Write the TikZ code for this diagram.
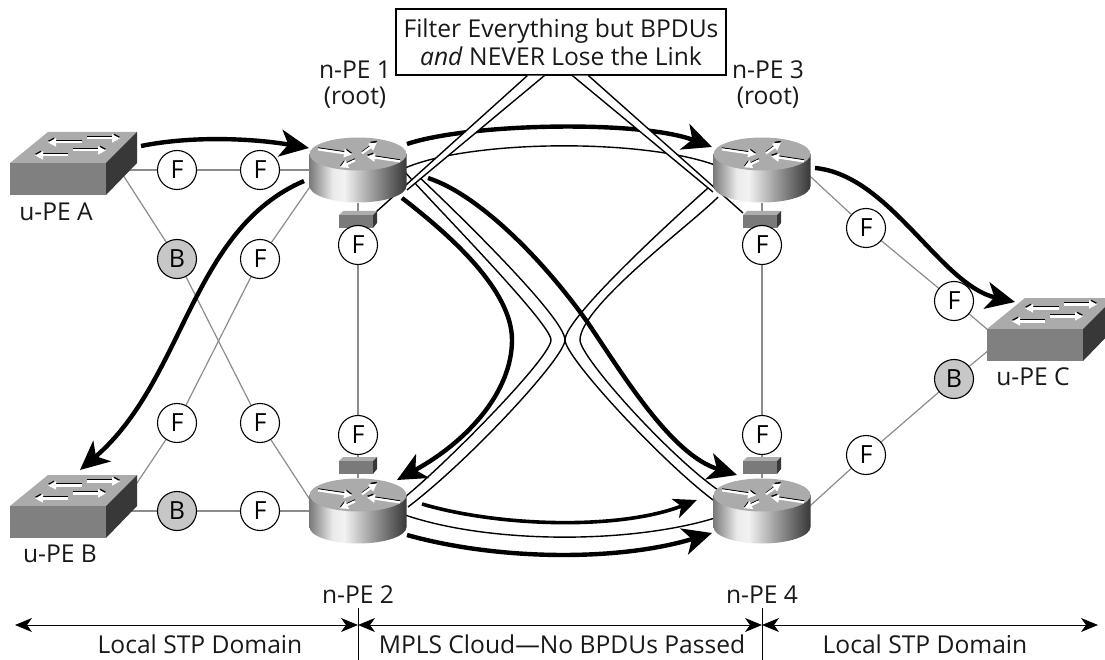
\documentclass[tikz,border=0pt]{standalone}
\usepackage{fontspec}
\setmainfont{Open Sans}
\usetikzlibrary{arrows.meta,calc}
\pgfdeclarelayer{wires}\pgfdeclarelayer{curves}\pgfdeclarelayer{callout}
\pgfsetlayers{wires,curves,callout,main}
\pgfdeclarehorizontalshading{routerside}{100bp}{color(0bp)=(black!52);color(25bp)=(black!52);color(37bp)=(black!8);color(43bp)=(black!5);color(60bp)=(black!45);color(75bp)=(black!78);color(100bp)=(black!78)}
\definecolor{wiregray}{gray}{0.55}
\definecolor{blockgray}{gray}{0.78}
\tikzset{
  x=1pt,y=-1pt,
  lab/.style={font=\fontsize{24.6}{28}\selectfont,inner sep=0pt,text=black!90},
  portf/.style={circle,draw=black,line width=1.1pt,fill=white,minimum size=39pt,inner sep=0pt,font=\fontsize{25}{25}\selectfont},
  portb/.style={portf,fill=blockgray},
  wire/.style={draw=wiregray,line width=1.2pt},
  thin line/.style={draw=black,line width=1.4pt},
  flow/.style={draw=black,line width=4.4pt,-{Stealth[length=29pt,width=27pt,inset=8pt]}},
  flowsmall/.style={draw=black,line width=3.6pt,-{Stealth[length=23pt,width=20pt,inset=6pt]}},
  span/.style={draw=black,line width=1pt,{Stealth[length=17pt,width=14pt,inset=5pt]}-{Stealth[length=17pt,width=14pt,inset=5pt]}},
  tick/.style={draw=black,line width=1pt},
}
% small white arrow with a dark edge
\newcommand{\whitearrow}[2]{%
  \draw[black,line width=1pt,-{Triangle[length=6pt,width=6pt]}] ($(#1)+(0,-1.2)$) -- ($(#2)+(0,-1.2)$);
  \draw[white,line width=2.2pt,-{Triangle[length=8pt,width=8pt]}] ($(#1)+(0,.4)$) -- ($(#2)+(0,.4)$);}
% switch: #1 name, #2 corner x, #3 corner y (front-top-left)
\newcommand{\switchbox}[3]{%
  \node[inner sep=0pt,minimum width=96pt,minimum height=32pt] (#1) at (#2+48,#3+16) {};
  \begin{scope}[shift={(#2,#3)}]
    \fill[black!33] (0,0) -- (38,-31) -- (127,-31) -- (96,0) -- cycle;
    \fill[black!50] (0,0) rectangle (96,32);
    \fill[black!78] (96,0) -- (127,-31) -- (127,0) -- (96,32) -- cycle;
    \whitearrow{72,-21}{38,-21}
    \whitearrow{77,-25}{110,-25}
    \whitearrow{58,-8}{25,-8}
    \whitearrow{63,-13}{96,-13}
  \end{scope}}
% router: #1 name, #2 centre x, #3 y of top ellipse centre
\newcommand{\routerbox}[3]{%
  \node[inner sep=0pt,minimum width=97pt,minimum height=65pt] (#1) at (#2,#3+16) {};
  \begin{scope}[shift={(#2,#3)}]
    \shade[shading=routerside] (-48.5,0) -- (-48.5,32) arc[start angle=180,end angle=360,x radius=48.5pt,y radius=16.5pt] -- (48.5,0) -- cycle;
    \fill[black!33] (0,0) ellipse[x radius=48.5pt,y radius=16.5pt];
    \whitearrow{-40,-5}{-6,0}
    \whitearrow{4,-1}{19,-12}
    \whitearrow{-3,6}{-18,13}
    \whitearrow{42,7}{9,2}
  \end{scope}}
% filter block: #1 name, #2 left x, #3 top y of the front face
\newcommand{\filterbox}[3]{%
  \node[inner sep=0pt,minimum width=34pt,minimum height=13pt] (#1) at (#2+17,#3+6.5) {};
  \begin{scope}[shift={(#2,#3)}]
    \fill[black!32] (0,0) -- (4,-4) -- (38,-4) -- (34,0) -- cycle;
    \fill[black!52] (0,0) rectangle (34,13);
    \fill[black!78] (34,0) -- (38,-4) -- (38,8) -- (34,13) -- cycle;
  \end{scope}}
\begin{document}
\begin{tikzpicture}
\useasboundingbox (0,0) rectangle (1105,660);
\begin{pgfonlayer}{wires}
\fill[white] (0,0) rectangle (1105,660);
\end{pgfonlayer}

% devices
\switchbox{swA}{10}{163}
\switchbox{swB}{10}{506}
\switchbox{swC}{987}{329}
\routerbox{pea}{358}{154}
\routerbox{peb}{358}{495}
\routerbox{pec}{762}{154}
\routerbox{ped}{762}{495}
\filterbox{fa}{339}{215}
\filterbox{fb}{339}{461}
\filterbox{fc}{743}{215}
\filterbox{fd}{743}{461}

% ports
\node[portf] (p1) at (177,170) {F};
\node[portf] (p2) at (260,170) {F};
\node[portb] (p3) at (177,259) {B};
\node[portf] (p4) at (260,259) {F};
\node[portf] (p5) at (177,423) {F};
\node[portf] (p6) at (260,423) {F};
\node[portb] (p7) at (177,511) {B};
\node[portf] (p8) at (260,511) {F};
\node[portf] (p9) at (358,245) {F};
\node[portf] (p10) at (358,435) {F};
\node[portf] (p11) at (762,245) {F};
\node[portf] (p12) at (762,435) {F};
\node[portf] (p13) at (866,228) {F};
\node[portf] (p14) at (954,301) {F};
\node[portb] (p15) at (954,379) {B};
\node[portf] (p16) at (866,455) {F};

% gray links
\begin{pgfonlayer}{wires}
\coordinate (swAe) at (125,170);
\coordinate (swAs) at (123,175);
\coordinate (swBe) at (125,501);
\coordinate (swBf) at (100,511);
\coordinate (aw) at (320,170);
\coordinate (asw) at (316,178);
\coordinate (bsw) at (316,509);
\coordinate (bw) at (320,511);
\coordinate (cse) at (800,167);
\coordinate (dne) at (800,515);
\coordinate (swCa) at (995,336);
\coordinate (swCb) at (995,345);
\draw[wire] (swAe) -- (p1) -- (p2) -- (aw);
\draw[wire] (swAs) -- (p3) -- (p6) -- (bsw);
\draw[wire] (asw) -- (p4) -- (p5) -- (swBe);
\draw[wire] (swBf) -- (p7) -- (p8) -- (bw);
\draw[wire] (pea) -- (p9) -- (p10) -- (peb);
\draw[wire] (pec) -- (p11) -- (p12) -- (ped);
\draw[wire] (cse) -- (p13) -- (p14) -- (swCa);
\draw[wire] (dne) -- (p16) -- (p15) -- (swCb);
\end{pgfonlayer}

% flows and thin cables
\begin{pgfonlayer}{curves}
\coordinate (s1) at (141,146); \coordinate (t1) at (309,148);
\coordinate (s2) at (407,144); \coordinate (t2) at (712,147);
\coordinate (s3) at (304,181); \coordinate (t3) at (80,470);
\coordinate (s4) at (815,168); \coordinate (t4) at (1015,302);
\coordinate (s5) at (402,198); \coordinate (t5) at (397,480);
\coordinate (s6) at (428,178); \coordinate (t6) at (737,475);
\coordinate (s7) at (422,504); \coordinate (t7) at (697,500);
\coordinate (s8) at (407,535); \coordinate (t8) at (712,533);
\coordinate (c1a) at (405,168); \coordinate (c1b) at (715,165);
\coordinate (c2a) at (405,515); \coordinate (c2b) at (715,518);
\coordinate (l1a) at (405,172); \coordinate (l1b) at (405,497);
\coordinate (l2a) at (417,175); \coordinate (l2b) at (408,507);
\coordinate (r1a) at (708,188); \coordinate (r1b) at (713,500);
\coordinate (r2a) at (718,197); \coordinate (r2b) at (718,490);
\draw[flow] (s1) .. controls (190,136) and (250,138) .. (t1);
\draw[flow] (s2) .. controls (470,123) and (640,120) .. (t2);
\draw[flow] (s3) .. controls (190,230) and (185,380) .. (t3);
\draw[flow] (s4) .. controls (890,175) and (940,285) .. (t4);
\draw[flow] (s5) .. controls (450,235) and (512,290) .. (512,340) .. controls (512,390) and (470,440) .. (t5);
\draw[flow] (s6) .. controls (480,195) and (545,262) .. (588,323) .. controls (625,378) and (672,455) .. (t6);
\draw[flowsmall] (s7) .. controls (500,527) and (620,530) .. (t7);
\draw[flow] (s8) .. controls (500,561) and (620,561) .. (t8);
\draw[thin line] (c1a) .. controls (470,140) and (640,138) .. (c1b);
\draw[thin line] (c2a) .. controls (490,544) and (630,544) .. (c2b);
\draw[thin line] (l1a) .. controls (429,200) and (551,323) .. (551,340) .. controls (551,357) and (450,460) .. (l1b);
\draw[thin line] (l2a) .. controls (449,205) and (565,317) .. (565,340) .. controls (565,357) and (471,459) .. (l2b);
\draw[thin line] (r1a) .. controls (681,212) and (565,317) .. (565,340) .. controls (565,357) and (659,459) .. (r1b);
\draw[thin line] (r2a) .. controls (694,222) and (580,306) .. (580,340) .. controls (580,357) and (667,454) .. (r2b);
\end{pgfonlayer}

% callout
\begin{pgfonlayer}{callout}
\node[draw=black,line width=1.2pt,fill=white,minimum width=330pt,minimum height=66pt,inner sep=0pt,align=center,lab,text=black!90] (note) at (561,42) {Filter Everything but BPDUs\\\textit{and} NEVER Lose the Link};
\coordinate (la) at ($(note.south west)+(132,0)$);
\coordinate (lb) at ($(note.south west)+(149,0)$);
\coordinate (ra) at ($(note.south west)+(177,0)$);
\coordinate (rb) at ($(note.south west)+(193,0)$);
\coordinate (fal) at (376,212);
\coordinate (far) at (407,190);
\coordinate (fcl) at (713,192);
\coordinate (fcr) at (743,213);
\fill[white] (la) -- (fal) -- (far) -- (lb) -- cycle;
\fill[white] (ra) -- (fcl) -- (fcr) -- (rb) -- cycle;
\draw[thin line] (la) -- (fal);
\draw[thin line] (lb) -- (far);
\draw[thin line] (ra) -- (fcl);
\draw[thin line] (rb) -- (fcr);
\end{pgfonlayer}

% labels
\node[lab] (n1) at (355,70) {n-PE 1};
\node[lab] (r1) at (355,98) {(root)};
\node[lab] (n3) at (768,70) {n-PE 3};
\node[lab] (r3) at (768,98) {(root)};
\node[lab] (n2) at (358,595) {n-PE 2};
\node[lab] (n4) at (762,595) {n-PE 4};
\node[lab] (ua) at (56,212) {u-PE A};
\node[lab] (ub) at (60,554) {u-PE B};
\node[lab] (uc) at (1033,377) {u-PE C};
\node[lab] (d1) at (200,644) {Local STP Domain};
\node[lab] (d2) at (562,644) {MPLS Cloud—No BPDUs Passed};
\node[lab] (d3) at (925,644) {Local STP Domain};

% domain spans
\coordinate (e0) at (15,625);
\coordinate (e1) at (358,625);
\coordinate (e2) at (762,625);
\coordinate (e3) at (1098,625);
\coordinate (k1a) at (358,608); \coordinate (k1b) at (358,660);
\coordinate (k2a) at (762,608); \coordinate (k2b) at (762,660);
\draw[span] (e0) -- (e1);
\draw[span] (e1) -- (e2);
\draw[span] (e2) -- (e3);
\draw[tick] (k1a) -- (k1b);
\draw[tick] (k2a) -- (k2b);
\end{tikzpicture}
\end{document}
